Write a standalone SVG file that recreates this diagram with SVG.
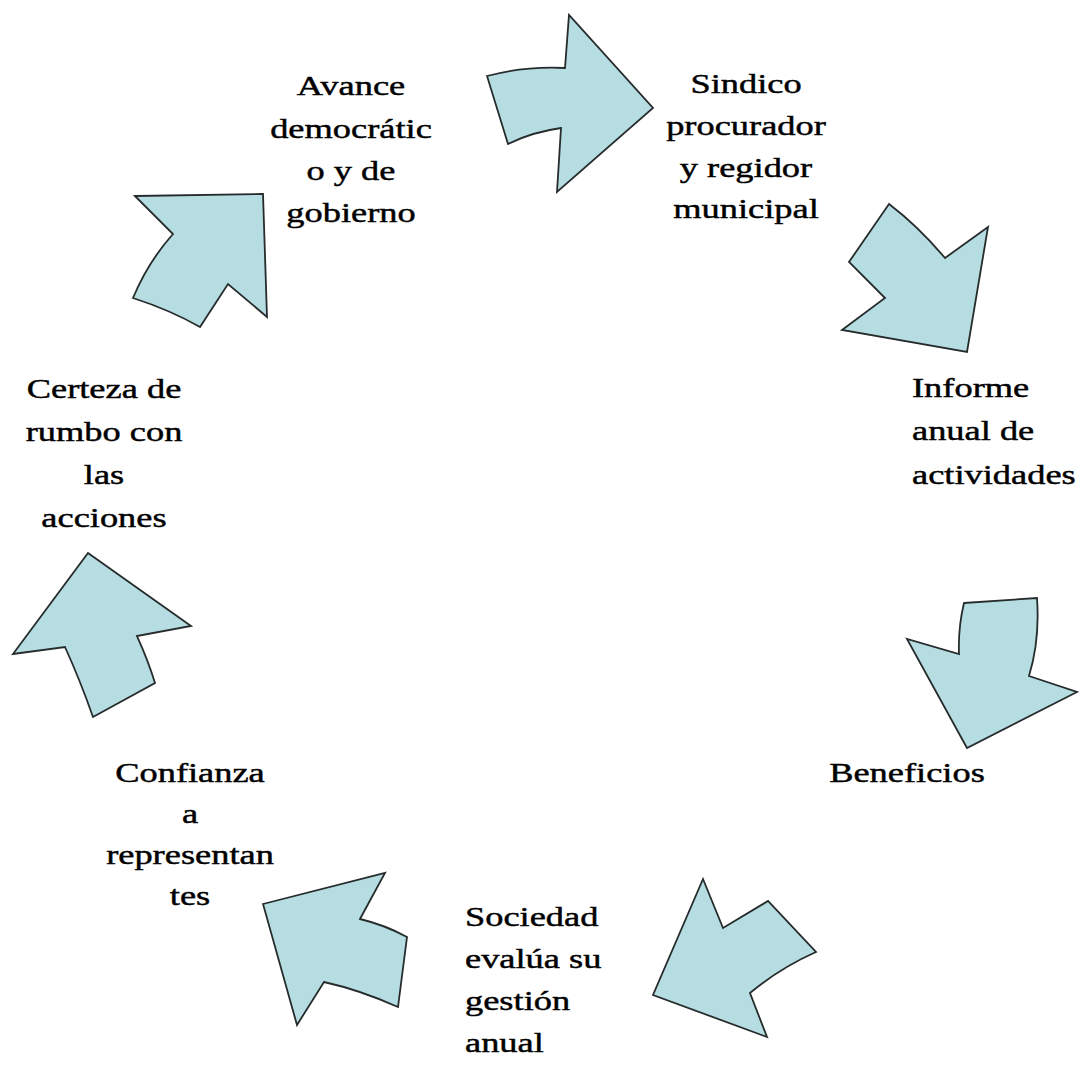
<svg xmlns="http://www.w3.org/2000/svg" width="1080" height="1079" viewBox="0 0 1080 1079">
<style>
.arr{fill:#b6dde2;stroke:#262b2c;stroke-width:1.8;stroke-linejoin:miter}
.t{font-family:"Liberation Serif","Times New Roman",serif;font-size:28px;fill:#000;stroke:#000;stroke-width:0.45}
.c{text-anchor:middle}
.s{text-anchor:start}
</style>
<rect width="1080" height="1079" fill="#fff"/>
<g id="connectors">
<path class="arr" d="M487,76 Q525,66 565,68 L569,15 L653,108 L557,192 L561,128 Q532,132 508,144 Z"/>
<path class="arr" d="M889,204 Q918,226 945,258 L988,227 L967,352 L842,330 L885,298 L849,262 Z"/>
<path class="arr" d="M964,603 L1037,598 Q1040,640 1029,676 L1077,692 L967,748 L907,639 L959,654 Q958,628 964,603 Z"/>
<path class="arr" d="M703,879 L723,928 L768,901 L816,952 Q780,968 750,993 L767,1037 L653,995 Z"/>
<path class="arr" d="M263,904 L385,873 L360,919 Q385,925 407,937 L398,1007 Q360,990 324,982 L297,1025 Z"/>
<path class="arr" d="M88,553 L191,626 L137,636 Q148,660 155,683 L93,717 Q80,680 65,647 L13,654 Z"/>
<path class="arr" d="M135,196 L263,194 L267,317 L228,284 L200,327 Q170,310 133,298 Q148,262 173,234 Z"/>
</g>
<g id="node-avance" class="t c" transform="translate(351 0) scale(1.3 1)">
<text x="0" y="95">Avance</text>
<text x="0" y="138">democrátic</text>
<text x="0" y="180">o y de</text>
<text x="0" y="222">gobierno</text>
</g>
<g id="node-sindico" class="t c" transform="translate(746 0) scale(1.3 1)">
<text x="0" y="93">Sindico</text>
<text x="0" y="135">procurador</text>
<text x="0" y="177">y regidor</text>
<text x="0" y="218">municipal</text>
</g>
<g id="node-informe" class="t s" transform="translate(912 0) scale(1.3 1)">
<text x="0" y="397">Informe</text>
<text x="0" y="440">anual de</text>
<text x="0" y="484">actividades</text>
</g>
<g id="node-beneficios" class="t c" transform="translate(907 0) scale(1.3 1)">
<text x="0" y="782">Beneficios</text>
</g>
<g id="node-sociedad" class="t s" transform="translate(465 0) scale(1.3 1)">
<text x="0" y="926">Sociedad</text>
<text x="0" y="968">evalúa su</text>
<text x="0" y="1010">gestión</text>
<text x="0" y="1052">anual</text>
</g>
<g id="node-confianza" class="t c" transform="translate(190 0) scale(1.3 1)">
<text x="0" y="782">Confianza</text>
<text x="0" y="823">a</text>
<text x="0" y="864">representan</text>
<text x="0" y="905">tes</text>
</g>
<g id="node-certeza" class="t c" transform="translate(104 0) scale(1.3 1)">
<text x="0" y="398">Certeza de</text>
<text x="0" y="441">rumbo con</text>
<text x="0" y="484">las</text>
<text x="0" y="527">acciones</text>
</g>
</svg>
